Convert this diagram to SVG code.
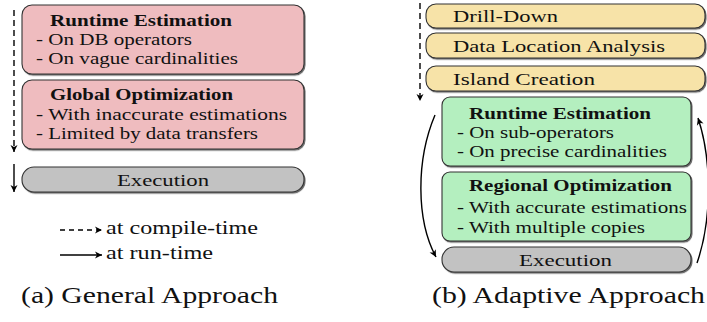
<svg xmlns="http://www.w3.org/2000/svg" width="707" height="322" viewBox="0 0 707 322">
<style>
text{fill:#111;font-family:"Liberation Serif","Times New Roman",serif}
.t{font-size:17px;font-weight:bold}
.l{font-size:17px}
.lg{font-size:19px}
.cap{font-size:24px}
.box{stroke:#333;stroke-width:1.1;filter:url(#sh)}
.pink{fill:#efbcbf}
.yel{fill:#f7e3a8}
.grn{fill:#b4efbf}
.gry{fill:#c2c2c2}
.ln{fill:none;stroke:#000;stroke-width:1.4}
.ds{stroke-dasharray:6 4}
</style>
<defs>
<filter id="sh" x="-5%" y="-10%" width="110%" height="130%">
<feDropShadow dx="1" dy="1.2" stdDeviation="0.4" flood-color="#444" flood-opacity="0.8"/>
</filter>
<marker id="ah" markerUnits="userSpaceOnUse" viewBox="-8 -4 9 8" markerWidth="9" markerHeight="8" refX="0" refY="0" orient="auto">
<path d="M0,0 L-7,-3.5 L-5,0 L-7,3.5 Z" fill="#000"/>
</marker>
</defs>
<g id="a-runtime">
<rect class="box pink" x="22" y="5" width="282" height="69" rx="10"/>
<text class="t" x="50" y="26" textLength="182" lengthAdjust="spacingAndGlyphs">Runtime Estimation</text>
<text class="l" x="36" y="45" textLength="156" lengthAdjust="spacingAndGlyphs">- On DB operators</text>
<text class="l" x="36" y="64" textLength="202" lengthAdjust="spacingAndGlyphs">- On vague cardinalities</text>
</g>
<g id="a-global">
<rect class="box pink" x="22" y="80" width="282" height="69" rx="10"/>
<text class="t" x="50" y="100" textLength="183" lengthAdjust="spacingAndGlyphs">Global Optimization</text>
<text class="l" x="36" y="120" textLength="251" lengthAdjust="spacingAndGlyphs">- With inaccurate estimations</text>
<text class="l" x="36" y="139" textLength="222" lengthAdjust="spacingAndGlyphs">- Limited by data transfers</text>
</g>
<g id="a-exec">
<rect class="box gry" x="22" y="167" width="282" height="25" rx="12"/>
<text class="l" x="117" y="186" textLength="92" lengthAdjust="spacingAndGlyphs">Execution</text>
</g>

<g id="b-drill">
<rect class="box yel" x="426" y="4" width="279" height="24" rx="10"/>
<text class="l" x="453" y="22" textLength="105" lengthAdjust="spacingAndGlyphs">Drill-Down</text>
</g>
<g id="b-dla">
<rect class="box yel" x="426" y="33" width="279" height="25" rx="10"/>
<text class="l" x="453" y="52" textLength="212" lengthAdjust="spacingAndGlyphs">Data Location Analysis</text>
</g>
<g id="b-island">
<rect class="box yel" x="426" y="66" width="279" height="25" rx="10"/>
<text class="l" x="453" y="85" textLength="142" lengthAdjust="spacingAndGlyphs">Island Creation</text>
</g>
<g id="b-runtime">
<rect class="box grn" x="442" y="97" width="249" height="69" rx="8"/>
<text class="t" x="469" y="119" textLength="182" lengthAdjust="spacingAndGlyphs">Runtime Estimation</text>
<text class="l" x="457" y="138" textLength="157" lengthAdjust="spacingAndGlyphs">- On sub-operators</text>
<text class="l" x="457" y="157" textLength="210" lengthAdjust="spacingAndGlyphs">- On precise cardinalities</text>
</g>
<g id="b-regional">
<rect class="box grn" x="442" y="172" width="249" height="69" rx="8"/>
<text class="t" x="469" y="191" textLength="203" lengthAdjust="spacingAndGlyphs">Regional Optimization</text>
<text class="l" x="457" y="213" textLength="230" lengthAdjust="spacingAndGlyphs">- With accurate estimations</text>
<text class="l" x="457" y="233" textLength="188" lengthAdjust="spacingAndGlyphs">- With multiple copies</text>
</g>
<g id="b-exec">
<rect class="box gry" x="442" y="247" width="249" height="25" rx="12"/>
<text class="l" x="519" y="266" textLength="93" lengthAdjust="spacingAndGlyphs">Execution</text>
</g>

<g id="connectors">
<path class="ln ds" d="M14,10 L14,152" marker-end="url(#ah)"/>
<path class="ln" d="M14,164 L14,192" marker-end="url(#ah)"/>
<path class="ln ds" d="M420,3 L420,101" marker-end="url(#ah)"/>
<path class="ln" d="M435,115 C416,160 416,220 436,257" marker-end="url(#ah)"/>
<path class="ln" d="M697,263 C712,220 712,160 698,118" marker-end="url(#ah)"/>
</g>

<g id="legend">
<path class="ln" d="M60,230 L102,230" stroke-dasharray="5 4" marker-end="url(#ah)"/>
<path class="ln" d="M60,255 L102,255" marker-end="url(#ah)"/>
<text class="lg" x="106" y="234" textLength="152" lengthAdjust="spacingAndGlyphs">at compile-time</text>
<text class="lg" x="106" y="259" textLength="107" lengthAdjust="spacingAndGlyphs">at run-time</text>
</g>

<text class="cap" x="21" y="303" textLength="257" lengthAdjust="spacingAndGlyphs">(a) General Approach</text>
<text class="cap" x="432" y="303" textLength="273" lengthAdjust="spacingAndGlyphs">(b) Adaptive Approach</text>
</svg>
